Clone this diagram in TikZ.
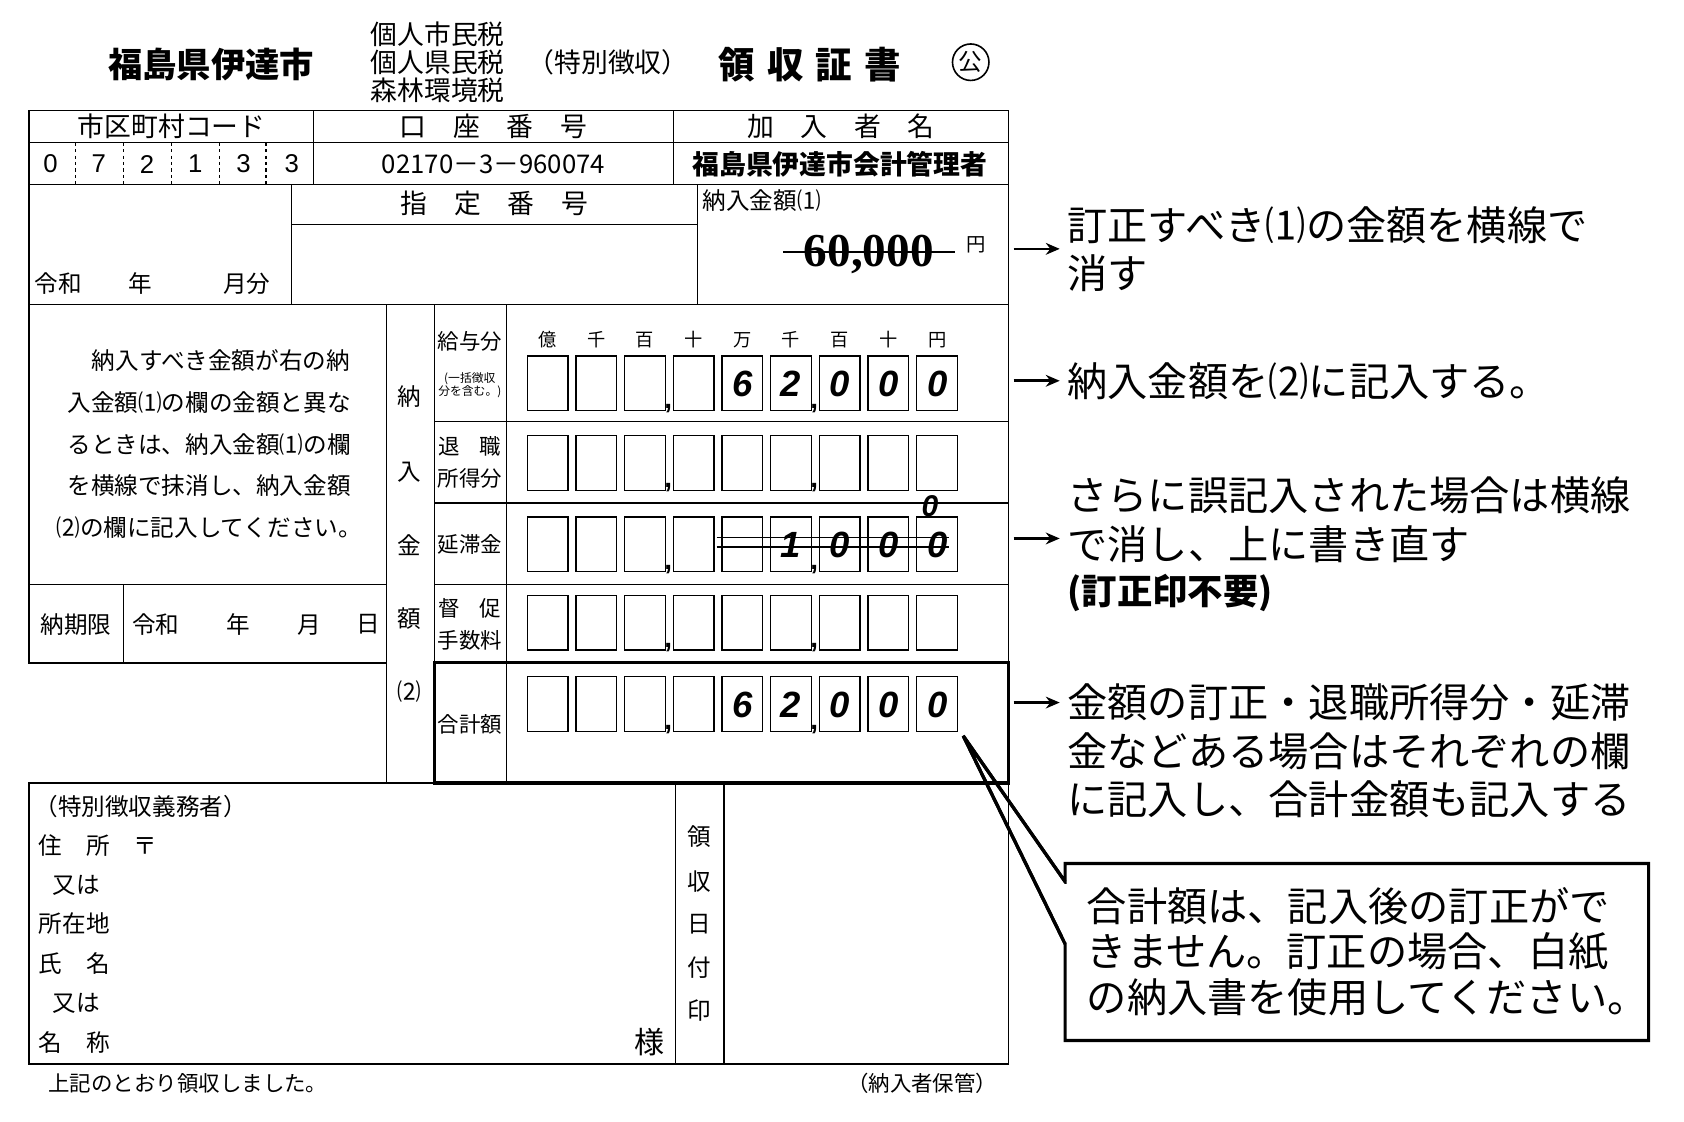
\documentclass[tikz,border=0pt]{standalone}
\usepackage{fontspec}
\setmainfont{Noto Sans CJK JP}
\newfontfamily\numfont{Liberation Sans}
\newfontfamily\serfont{Liberation Serif}
\newcommand\fs[1]{\fontsize{#1}{#1}\selectfont}
\tikzset{
 ln/.style={line width=1.2pt},
 thick box/.style={line width=3pt},
 t/.style={inner sep=0pt,font=\fs{22}},
 ann/.style={inner sep=0pt,anchor=west,font=\fs{37.5}},
 dig/.style={inner sep=0pt,font=\numfont\bfseries\itshape\fs{34}},
 cell/.style={line width=1.2pt},
 arr/.style={line width=2.5pt,-{Stealth[length=13pt,width=11pt]}},
}
\usetikzlibrary{arrows.meta}
\begin{document}
\begin{tikzpicture}[x=1pt,y=-1pt]
\useasboundingbox[fill=white] (0,0) rectangle (1570,1046);
% titles
\node[t,font=\bfseries\fs{32}] (city) at (197,60) {福島県伊達市};
\node[t,font=\fs{25},align=center] (tax) at (408,58) {個人市民税\\[1pt]個人県民税\\[1pt]森林環境税};
\node[t,font=\fs{25}] (tok) at (567,58) {（特別徴収）};
\node[t,font=\bfseries\fs{34}] (ryo) at (755,60) {領\,\,収\,\,証\,\,書};
\draw[line width=1.5pt] (905,58) circle (17);
\node[t,font=\fs{22}] (ko) at (905,58) {公};
% outer frame
\draw[ln] (27,103) -- (940,103) -- (940,992) -- (27,992) -- (27,730) -- (360,730);
\draw[ln] (27,103) -- (27,618) -- (360,618);
\draw[ln] (27,133) -- (940,133);
\draw[ln] (27,172) -- (940,172);
\draw[ln] (292,103) -- (292,172);
\draw[ln] (628,103) -- (628,172);
\foreach \x in {70,115,160,205,248} \draw[line width=1pt,dash pattern=on 3pt off 3pt] (\x,133) -- (\x,172);
\node[t,font=\fs{25}] (h1) at (160,118) {市区町村コード};
\node[t,font=\fs{25}] (h2) at (460,118) {口\quad 座\quad 番\quad 号};
\node[t,font=\fs{25}] (h3) at (784,118) {加\quad 入\quad 者\quad 名};
\foreach \d [count=\i from 0] in {0,7,2,1,3,3} \node[t,font=\numfont\fs{24}] at (47+45*\i,153) {\d};
\node[t,font=\fs{24}] (acct) at (460,153) {02170－3－960074};
\node[t,font=\bfseries\fs{25}] (kanri) at (783,153) {福島県伊達市会計管理者};
% row 3
\draw[ln] (27,284) -- (940,284);
\draw[ln] (272,172) -- (272,284);
\draw[ln] (650,172) -- (650,284);
\draw[ln] (272,209) -- (650,209);
\node[t,anchor=west] (reiwa1) at (32,264) {令和\qquad 年\qquad\quad 月分};
\node[t,font=\fs{25}] (shitei) at (461,190) {指\quad 定\quad 番\quad 号};
\node[t,anchor=west] (nyu1) at (655,187) {納入金額⑴};
\node[t,font=\serfont\bfseries\fs{44}] (sixty) at (810,237) {60,000};
\draw[line width=2pt] (730,235) -- (890,235);
\node[t,font=\fs{18}] (yen) at (910,228) {円};
% middle block
\draw[ln] (360,284) -- (360,730) -- (405,730);
\draw[ln] (405,284) -- (405,618);
\draw[ln] (472,284) -- (472,730);
\foreach \y in {393,469,545} \draw[ln] (405,\y) -- (940,\y);
\draw[ln] (27,545) -- (360,545);
\draw[ln] (115,545) -- (115,618);
\draw[thick box] (405,618) rectangle (940,730);
\node[t,align=center] (lefttext) at (195,414) {\hspace{1em}納入すべき金額が右の納\\[17pt]入金額⑴の欄の金額と異な\\[17pt]るときは、納入金額⑴の欄\\[17pt]を横線で抹消し、納入金額\\[17pt]⑵の欄に記入してください。};
\node[t] (noki) at (71,582) {納期限};
\node[t,anchor=west] (reiwa2) at (123,582) {令和\qquad 年\qquad 月};
\node[t] (hi) at (343,582) {日};
\foreach \c/\y in {納/370,入/440,金/508,額/577,⑵/645} \node[t] at (382,\y) {\c};
\tikzset{lab/.style={inner sep=0pt,font=\fs{20}}}
\node[lab] (l1) at (438,318) {給与分};
\node[lab,font=\fs{11},align=center] (l1b) at (438,359) {(一括徴収\\分を含む。)};
\node[lab] (l2a) at (438,416) {退\hspace{0.9em}職};
\node[lab] (l2b) at (438,446) {所得分};
\node[lab] (l3) at (438,508) {延滞金};
\node[lab] (l4a) at (438,567) {督\hspace{0.9em}促};
\node[lab] (l4b) at (438,597) {手数料};
\node[lab] (l5) at (438,675) {合計額};
\foreach \c [count=\i from 0] in {億,千,百,十,万,千,百,十,円} \node[t,font=\fs{17}] at (510.5+45.4*\i,317) {\c};
\foreach \yt in {332,406,482,555,631} {
  \foreach \i in {0,...,8} \draw[cell] (491.5+45.4*\i,\yt) rectangle +(38,51);
  \node[t,font=\numfont\bfseries\fs{26}] at (623,\yt+49) {,};
  \node[t,font=\numfont\bfseries\fs{26}] at (759,\yt+49) {,};
}
\foreach \yt in {358,657} \foreach \d [count=\i from 4] in {6,2,0,0,0} \node[dig] at (510.5+45.4*\i,\yt) {\d};
\foreach \d [count=\i from 5] in {1,0,0,0} \node[dig] at (510.5+45.4*\i,508) {\d};
\draw[line width=1.5pt] (668,501) -- (885,501);
\draw[line width=1.5pt] (668,510) -- (885,510);
\node[dig,font=\numfont\bfseries\itshape\fs{28}] at (867,472) {0};
% bottom
\draw[ln] (27,730) -- (940,730);
\draw[ln] (630,730) -- (630,992);
\draw[ln] (675,730) -- (675,992);
\foreach \c/\y in {領/780,収/822,日/862,付/902,印/942} \node[t] at (652,\y) {\c};
\node[t,anchor=west] (gimu) at (32,752) {（特別徴収義務者）};
\node[t,anchor=west] (b1) at (36,788) {住\quad 所\quad 〒};
\node[t,anchor=west] (b2) at (36,825) {\hspace{0.6em}又は};
\node[t,anchor=west] (b3) at (36,861) {所在地};
\node[t,anchor=west] (b4) at (36,898) {氏\quad 名};
\node[t,anchor=west] (b5) at (36,935) {\hspace{0.6em}又は};
\node[t,anchor=west] (b6) at (36,972) {名\quad 称};
\node[t,font=\fs{28}] (sama) at (606,972) {様};
\node[t,anchor=west,font=\fs{20}] (foot1) at (45,1010) {上記のとおり領収しました。};
\node[t,anchor=east,font=\fs{20}] (foot2) at (930,1010) {（納入者保管）};
% annotations
\node[ann] (a1) at (995,210) {訂正すべき⑴の金額を横線で};
\node[ann] (a1b) at (995,255) {消す};
\node[ann] (a2) at (995,355) {納入金額を⑵に記入する。};
\node[ann] (a3) at (995,462) {さらに誤記入された場合は横線};
\node[ann] (a3b) at (995,507) {で消し、上に書き直す};
\node[ann,font=\bfseries\fs{33}] (a3c) at (995,553) {(訂正印不要)};
\node[ann] (a4) at (995,655) {金額の訂正・退職所得分・延滞};
\node[ann] (a4b) at (995,700) {金などある場合はそれぞれの欄};
\node[ann] (a4c) at (995,745) {に記入し、合計金額も記入する};
\foreach \y [count=\k] in {232,355,502,655} {
  \coordinate (s\k) at (945,\y); \coordinate (e\k) at (988,\y);
  \draw[arr] (s\k) -- (e\k);
}
% callout
\coordinate (tip) at (898,686);
\draw[thick box,line join=miter] (993,822) -- (993,805) -- (1537,805) -- (1537,970) -- (993,970) -- (993,880) -- (tip) -- cycle;
\fill[white] (991,824) rectangle (996,878);
\draw[thick box] (993,822) -- (tip) -- (993,880);
\node[t,font=\fs{37.5},align=left,anchor=west] (call) at (1013,887) {合計額は、記入後の訂正がで\\[5pt]きません。訂正の場合、白紙\\[5pt]の納入書を使用してください。};
\end{tikzpicture}
\end{document}
